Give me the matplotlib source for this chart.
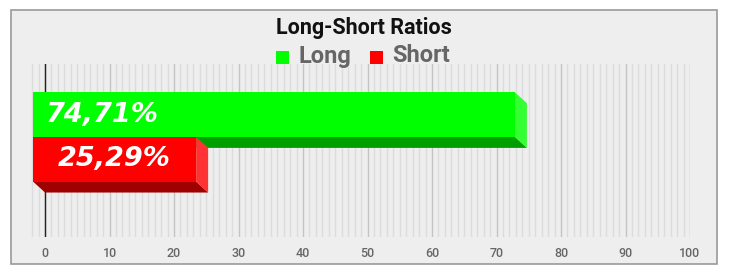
import numpy as np
import matplotlib
matplotlib.use("Agg")
import matplotlib.pyplot as plt
from matplotlib.patches import Rectangle, Polygon
from matplotlib.ticker import MultipleLocator

plt.rcParams['font.family'] = ['Roboto', 'DejaVu Sans']

# データ
series_names = ["Long", "Short"]
series_values = [74.71, 25.29]
series_labels = ["74,71%", "25,29%"]
front_colors = ["#00ff00", "#ff0000"]
side_colors = ["#33ff33", "#ff3333"]
bottom_colors = ["#009f00", "#a00000"]
x_ticks = list(range(0, 101, 10))

W, H = 730, 275
fig = plt.figure(figsize=(W / 100, H / 100), dpi=100, facecolor="white")

# 外枠
fig.patches.append(Rectangle((11 / W, 1 - 264 / H), 706 / W, 254 / H,
                             transform=fig.transFigure, facecolor="#eeeeee",
                             edgecolor="#999999", linewidth=1.2, zorder=-10))

ax = fig.add_axes([26 / W, 1 - 237 / H, (690 - 26) / W, (237 - 64) / H])
ax.set_facecolor("#eeeeee")
ax.set_xlim(-2.95, 100)
ax.set_ylim(-0.515, 0.485)
ax.set_autoscale_on(False)
for s in ax.spines.values():
    s.set_visible(False)

ax.xaxis.set_major_locator(MultipleLocator(10))
ax.xaxis.set_minor_locator(MultipleLocator(1))
ax.grid(which="minor", axis="x", color="#dcdcdc", linewidth=1)
ax.grid(which="major", axis="x", color="#c4c4c4", linewidth=1)
ax.set_axisbelow(True)
ax.set_xticks(x_ticks)
ax.set_xticklabels([str(t) for t in x_ticks], color="#666666", fontsize=9, fontweight="medium")
ax.tick_params(axis="x", which="both", length=0, pad=7)
ax.set_yticks([])
ax.axvline(0, color="#222222", linewidth=1, zorder=1)

# 3D風の奥行き (px -> data)
depth_px = (12, 11)
fig.canvas.draw()
p0 = ax.transData.transform((0, 0))
dx, dy = ax.transData.inverted().transform(p0 + np.array([-depth_px[0], depth_px[1]]))

bar_h = 0.258
for i, (name, v) in enumerate(zip(series_names, series_values)):
    y0 = -bar_h * i
    y1 = y0 + bar_h
    z = 2 + i * 3
    # 下面
    ax.add_patch(Polygon([(dx, y0 + dy), (dx + v, y0 + dy), (v, y0), (0, y0)],
                         closed=True, facecolor=bottom_colors[i], edgecolor="none", zorder=z))
    # 右側面
    ax.add_patch(Polygon([(dx + v, y0 + dy), (dx + v, y1 + dy), (v, y1), (v, y0)],
                         closed=True, facecolor=side_colors[i], edgecolor="none", zorder=z))
    # 前面
    ax.barh(y0 + dy, v, height=bar_h, left=dx, align="edge", color=front_colors[i],
            edgecolor="none", zorder=z + 1)
    yc = y0 + dy + bar_h / 2
    if v > 50:
        ax.annotate(series_labels[i], xy=(dx, yc), xytext=(9, 0), textcoords="offset points",
                    ha="left", va="center", color="white", fontsize=19.5, fontweight="bold",
                    fontstyle="italic", family="DejaVu Sans", zorder=z + 2)
    else:
        ax.annotate(series_labels[i], xy=(dx + v / 2, yc), xytext=(0, 0), textcoords="offset points",
                    ha="center", va="center", color="white", fontsize=19.5, fontweight="bold",
                    fontstyle="italic", family="DejaVu Sans", zorder=z + 2)

# タイトル
fig.text(364 / W, 1 - 28 / H, "Long-Short Ratios", ha="center", va="center",
         fontsize=15.5, fontweight="bold", color="#111111")

# 凡例
leg_x = [276, 370]
for i, name in enumerate(series_names):
    fig.patches.append(Rectangle((leg_x[i] / W, 1 - 64 / H), 13 / W, 13 / H,
                                 transform=fig.transFigure, facecolor=front_colors[i],
                                 edgecolor="none", zorder=3))
    fig.text((leg_x[i] + 22) / W, 1 - 56 / H, name, ha="left", va="center",
             fontsize=17, fontweight="bold", color="#666666")

fig.savefig("out.png", dpi=100, facecolor="white")
